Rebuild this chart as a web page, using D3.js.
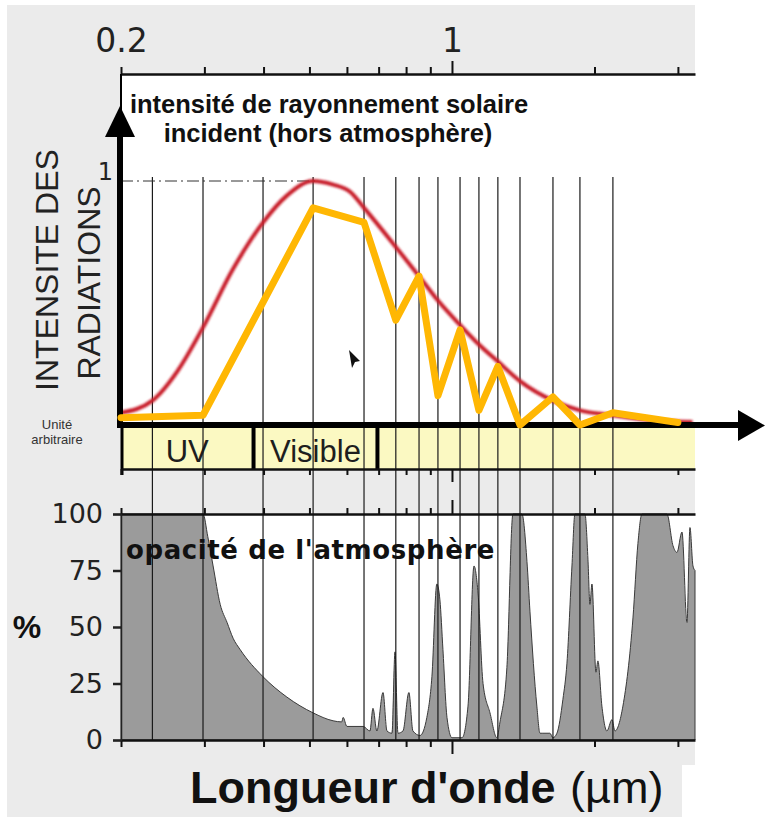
<!DOCTYPE html>
<html>
<head>
<meta charset="utf-8">
<script src="https://cdn.jsdelivr.net/npm/d3@7"></script>
<style>
body { margin: 0; background: #fff; }
svg { display: block; font-family: "Liberation Sans", Arial, sans-serif; }
</style>
</head>
<body>
<svg id="chart"></svg>
<script>
var width = 765;
var height = 817;

// log axis of wavelengths (µm)
var axisTicks = [0.2, 0.3, 0.4, 0.5, 0.6, 0.7, 0.8, 0.9, 1, 2, 3];
var axisLabels = [0.2, 1];

// wavelengths of the thin vertical guide lines
var gridWaves = [0.233, 0.298, 0.399, 0.509, 0.652, 0.761, 0.852, 0.934, 1.04, 1.14, 1.25, 1.392, 1.634, 1.863, 2.187];

// red curve: incident solar intensity (arbitrary unit, peak = 1)
var solarWave  = [0.2, 0.233, 0.263, 0.298, 0.345, 0.399, 0.448, 0.509, 0.561, 0.61, 0.652, 0.761, 0.852, 0.934, 1.04, 1.14, 1.25, 1.392, 1.634, 1.863, 2.187, 2.62, 3.22];
var solarValue = [0.05, 0.10, 0.22, 0.40, 0.64, 0.83, 0.94, 1.0, 0.985, 0.955, 0.89, 0.73, 0.61, 0.51, 0.41, 0.33, 0.26, 0.18, 0.10, 0.06, 0.04, 0.02, 0.012];

// orange line: intensity after crossing the atmosphere
var groundWave  = [0.2, 0.298, 0.509, 0.652, 0.761, 0.852, 0.934, 1.04, 1.14, 1.25, 1.392, 1.634, 1.863, 2.187, 3.0];
var groundValue = [0.03, 0.04, 0.89, 0.83, 0.43, 0.61, 0.12, 0.39, 0.06, 0.24, 0.0, 0.115, 0.0, 0.05, 0.01];

// spectral bands strip
var bandEdges = [0.2, 0.381, 0.696, 3.26];
var bandNames = ['UV', 'Visible', ''];

// atmosphere opacity (%)
var opacityWave = [0.2, 0.298, 0.305, 0.313, 0.324, 0.335, 0.345, 0.357, 0.399, 0.448, 0.509, 0.561, 0.585, 0.589, 0.6, 0.649,
    0.671, 0.681, 0.694, 0.715, 0.729, 0.747, 0.758, 0.769, 0.788, 0.811, 0.827, 0.856, 0.885, 0.907, 0.929, 0.943, 0.957, 0.976,
    1.0, 1.05, 1.081, 1.113, 1.135, 1.163, 1.203, 1.244, 1.263, 1.306, 1.345, 1.405, 1.44, 1.461, 1.511, 1.534, 1.556, 1.61,
    1.634, 1.666, 1.715, 1.749, 1.792, 1.818, 1.909, 1.937, 1.956, 1.975, 2.014, 2.033, 2.073, 2.124, 2.177, 2.209, 2.296,
    2.411, 2.47, 2.519, 2.844, 2.929, 2.986, 3.06, 3.135, 3.181, 3.228, 3.26];
var opacityValue = [100, 100, 90, 77, 60, 52, 45, 40, 28, 19, 12, 8.5, 8, 10, 6, 6,
    4, 14, 4, 21, 4, 3, 39, 3, 4, 21, 4, 2, 10, 28, 69, 62, 40, 10,
    1, 1, 15, 77, 65, 25, 12, 1, 8, 32, 100, 100, 79, 57, 15, 3, 3, 3,
    1, 3, 18, 34, 77, 100, 100, 80, 60, 69, 30, 35, 15, 4, 9, 4, 15,
    54, 87, 100, 100, 86, 83, 92, 52, 94, 77, 75];
var opacityTicks = [0, 25, 50, 75, 100];

var svg = d3.select('#chart')
    .attr('width', width)
    .attr('height', height);

var x = d3.scaleLog().domain([0.2, 3.26]).range([121, 695]);
var yI = d3.scaleLinear().domain([0, 1]).range([425, 181]);
var yP = d3.scaleLinear().domain([0, 100]).range([740, 514]);

// grey backdrop
svg.append('rect').attr('x', 7).attr('y', 5).attr('width', 688).attr('height', 760).attr('fill', '#ebebeb');
svg.append('rect').attr('x', 7).attr('y', 765).attr('width', 675).attr('height', 52).attr('fill', '#ebebeb');

// white plot areas
svg.append('rect').attr('x', x(0.2)).attr('y', 74).attr('width', x(3.26) - x(0.2)).attr('height', 425 - 74).attr('fill', '#fff');
svg.append('rect').attr('x', x(0.2)).attr('y', yP(100)).attr('width', x(3.26) - x(0.2)).attr('height', yP(0) - yP(100)).attr('fill', '#fff');

// band strip
var band = svg.append('g');
band.selectAll('rect')
    .data(bandNames)
    .enter().append('rect')
    .attr('x', function (d, i) { return x(bandEdges[i]); })
    .attr('y', 428)
    .attr('width', function (d, i) { return x(bandEdges[i + 1]) - x(bandEdges[i]); })
    .attr('height', 41)
    .attr('fill', '#fbf9c2');
band.selectAll('text')
    .data(bandNames)
    .enter().append('text')
    .attr('x', function (d, i) { return (x(bandEdges[i]) + x(bandEdges[i + 1])) / 2; })
    .attr('y', 462)
    .attr('text-anchor', 'middle')
    .attr('font-size', 31)
    .attr('fill', '#1e1e1e')
    .text(function (d) { return d; });

// opacity area
var area = d3.area()
    .x(function (d, i) { return x(opacityWave[i]); })
    .y0(yP(0))
    .y1(function (d) { return yP(d); })
    .curve(d3.curveMonotoneX);
svg.append('path')
    .datum(opacityValue)
    .attr('d', area)
    .attr('fill', '#9b9b9b')
    .attr('stroke', '#3a3a3a')
    .attr('stroke-width', 1);

// vertical guide lines
svg.append('g').selectAll('line')
    .data(gridWaves)
    .enter().append('line')
    .attr('x1', function (d) { return x(d); })
    .attr('x2', function (d) { return x(d); })
    .attr('y1', 177)
    .attr('y2', 740)
    .attr('stroke', '#1a1a1a')
    .attr('stroke-width', 1.2);

// band separators and border
band.selectAll('line.sep')
    .data(bandEdges.slice(1, 3))
    .enter().append('line')
    .attr('class', 'sep')
    .attr('x1', function (d) { return x(d); })
    .attr('x2', function (d) { return x(d); })
    .attr('y1', 428)
    .attr('y2', 469)
    .attr('stroke', '#000')
    .attr('stroke-width', 4);
svg.append('line').attr('x1', 122).attr('x2', 122).attr('y1', 425).attr('y2', 475).attr('stroke', '#000').attr('stroke-width', 3);

function styleAxis(g, longTick) {
    g.select('.domain').attr('stroke', '#111').attr('stroke-width', 2.5);
    g.selectAll('.tick line').attr('stroke', '#111').attr('stroke-width', 2);
    g.selectAll('.tick')
        .filter(function (d) { return d === 1; })
        .select('line')
        .attr('y2', longTick);
}

// top axis
var topAxis = svg.append('g')
    .attr('transform', 'translate(0,74)')
    .call(d3.axisTop(x).tickValues(axisTicks).tickSize(7).tickSizeOuter(0).tickPadding(15)
        .tickFormat(function (d) { return axisLabels.indexOf(d) >= 0 ? d : ''; }));
styleAxis(topAxis, -13);
topAxis.selectAll('text')
    .style('font-family', '"DejaVu Sans", sans-serif')
    .style('font-size', '33px')
    .attr('fill', '#222');

// ticks under the band strip
var bandAxis = svg.append('g')
    .attr('transform', 'translate(0,469)')
    .call(d3.axisBottom(x).tickValues(axisTicks).tickSize(6).tickSizeOuter(0).tickFormat(''));
styleAxis(bandAxis, 13);

// opacity frame
var opTop = svg.append('g')
    .attr('transform', 'translate(0,' + yP(100) + ')')
    .call(d3.axisTop(x).tickValues(axisTicks).tickSize(6).tickSizeOuter(0).tickFormat(''));
styleAxis(opTop, -14);
var opBottom = svg.append('g')
    .attr('transform', 'translate(0,' + yP(0) + ')')
    .call(d3.axisBottom(x).tickValues(axisTicks).tickSize(7).tickSizeOuter(0).tickFormat(''));
styleAxis(opBottom, 14);
var opLeft = svg.append('g')
    .attr('transform', 'translate(121,0)')
    .call(d3.axisLeft(yP).tickValues(opacityTicks).tickSize(8).tickPadding(10));
opLeft.select('.domain').attr('stroke', '#222').attr('stroke-width', 1.5);
opLeft.selectAll('.tick line').attr('stroke', '#222').attr('stroke-width', 2.5);
opLeft.selectAll('text')
    .style('font-family', '"DejaVu Sans", sans-serif')
    .style('font-size', '27px')
    .attr('fill', '#222');

// dash-dot reference at intensity 1
svg.append('line')
    .attr('x1', x(0.2)).attr('x2', x(0.52))
    .attr('y1', yI(1)).attr('y2', yI(1))
    .attr('stroke', '#333')
    .attr('stroke-width', 1)
    .attr('stroke-dasharray', '12,4,2,4');
svg.append('text')
    .attr('x', 113).attr('y', yI(1) - 1)
    .attr('text-anchor', 'end')
    .style('font-family', '"DejaVu Sans", sans-serif')
    .style('font-size', '24px')
    .attr('fill', '#222')
    .text('1');

// red solar curve
var defs = svg.append('defs');
defs.append('filter').attr('id', 'soft')
    .append('feGaussianBlur').attr('stdDeviation', 0.8);
var solarLine = d3.line()
    .x(function (d, i) { return x(solarWave[i]); })
    .y(function (d) { return yI(d); })
    .curve(d3.curveMonotoneX);
svg.append('path')
    .datum(solarValue)
    .attr('d', solarLine)
    .attr('fill', 'none')
    .attr('stroke', '#c81e2a')
    .attr('stroke-width', 4)
    .attr('filter', 'url(#soft)');

// axes arrows
svg.append('line').attr('x1', 121).attr('x2', 121).attr('y1', 74).attr('y2', 120).attr('stroke', '#000').attr('stroke-width', 2);
svg.append('line').attr('x1', 120).attr('x2', 120).attr('y1', 428).attr('y2', 130).attr('stroke', '#000').attr('stroke-width', 6);
svg.append('path').attr('d', 'M105,137L120,106L135,137Z').attr('fill', '#000');
svg.append('line').attr('x1', 117).attr('x2', 745).attr('y1', 425).attr('y2', 425).attr('stroke', '#000').attr('stroke-width', 6);
svg.append('path').attr('d', 'M738,410L765,425.5L738,441Z').attr('fill', '#000');

// orange line
var groundLine = d3.line()
    .x(function (d, i) { return x(groundWave[i]); })
    .y(function (d) { return yI(d); });
svg.append('path')
    .datum(groundValue)
    .attr('d', groundLine)
    .attr('fill', 'none')
    .attr('stroke', '#ffb703')
    .attr('stroke-width', 7)
    .attr('stroke-linejoin', 'round')
    .attr('stroke-linecap', 'round');

// stray mouse pointer
svg.append('path').attr('d', 'M349,350L360,361L355,362L352,368Z').attr('fill', '#111');

// titles
svg.append('text')
    .attr('x', 329).attr('y', 113)
    .attr('text-anchor', 'middle')
    .attr('font-weight', 'bold')
    .attr('font-size', 25.5)
    .attr('fill', '#111')
    .text('intensité de rayonnement solaire');
svg.append('text')
    .attr('x', 328).attr('y', 142)
    .attr('text-anchor', 'middle')
    .attr('font-weight', 'bold')
    .attr('font-size', 25.5)
    .attr('fill', '#111')
    .text('incident (hors atmosphère)');

svg.append('text')
    .attr('transform', 'translate(58,270) rotate(-90)')
    .attr('text-anchor', 'middle')
    .attr('font-size', 32)
    .attr('fill', '#222')
    .text('INTENSITE DES');
svg.append('text')
    .attr('transform', 'translate(100,283) rotate(-90)')
    .attr('text-anchor', 'middle')
    .attr('font-size', 32)
    .attr('fill', '#222')
    .text('RADIATIONS');

svg.append('text')
    .attr('x', 57).attr('y', 429)
    .attr('text-anchor', 'middle')
    .attr('font-size', 13)
    .attr('fill', '#333')
    .text('Unité');
svg.append('text')
    .attr('x', 57).attr('y', 444)
    .attr('text-anchor', 'middle')
    .attr('font-size', 13)
    .attr('fill', '#333')
    .text('arbitraire');

svg.append('text')
    .attr('x', 126).attr('y', 559)
    .style('font-family', '"DejaVu Sans", sans-serif')
    .attr('font-weight', 'bold')
    .attr('font-size', 26)
    .attr('letter-spacing', 0.6)
    .attr('fill', '#111')
    .text("opacité de l'atmosphère");

svg.append('text')
    .attr('x', 27).attr('y', 638)
    .attr('text-anchor', 'middle')
    .attr('font-weight', 'bold')
    .attr('font-size', 32)
    .attr('fill', '#111')
    .text('%');

svg.append('text')
    .attr('x', 190).attr('y', 803)
    .attr('font-size', 45)
    .attr('font-weight', 'bold')
    .attr('fill', '#111')
    .text("Longueur d'onde");
svg.append('text')
    .attr('x', 570).attr('y', 803)
    .attr('font-size', 45)
    .attr('fill', '#111')
    .text('(µm)');
</script>
</body>
</html>
